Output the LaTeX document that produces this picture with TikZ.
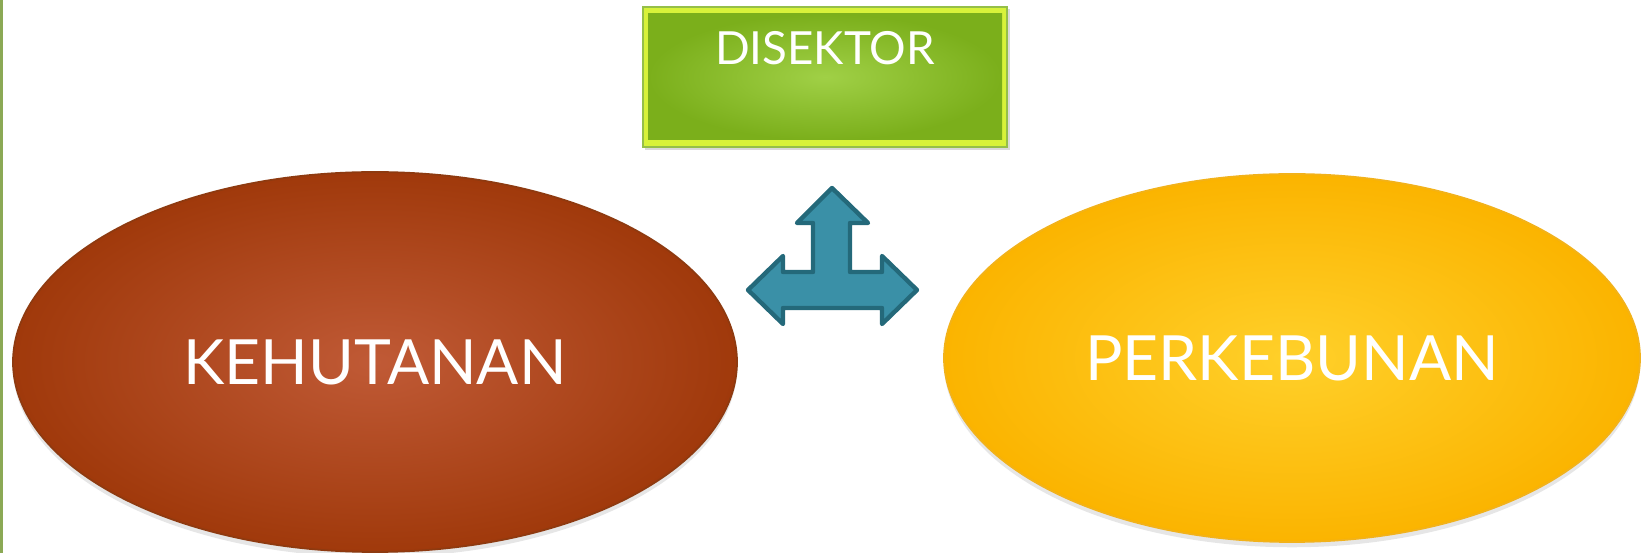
\documentclass[tikz,border=0pt]{standalone}
\usepackage{fontspec}
\setmainfont{Lato}
\usepackage{xcolor}
\usepackage{tikz}
\usetikzlibrary{positioning, calc, shapes.geometric, shadows}
\definecolor{rustin}{HTML}{C05A36}
\definecolor{rustout}{HTML}{A0390B}
\definecolor{rustline}{HTML}{8E3A10}
\definecolor{goldin}{HTML}{FFD02A}
\definecolor{goldout}{HTML}{FBB400}
\definecolor{goldline}{HTML}{F2B21A}
\definecolor{leafin}{HTML}{A0D046}
\definecolor{leafout}{HTML}{7BAF1B}
\definecolor{bevel}{HTML}{D8F23A}
\definecolor{tealfill}{HTML}{3A90A7}
\definecolor{tealline}{HTML}{24697A}
\definecolor{sidebar}{HTML}{8BA955}

\begin{document}
\begin{tikzpicture}[x=0.02cm, y=-0.02cm,
  every node/.style={text=white},
  blob/.style={ellipse, draw, line width=1pt, drop shadow={opacity=0.2, shadow xshift=0pt, shadow yshift=-3pt}},
  label/.style={font=\fontsize{35.5}{38}\selectfont}]
  \useasboundingbox (0, 0) rectangle (1651, 553);
  \fill[sidebar] (0, 0) rectangle (3, 553);

  % the two ellipses
  \node[blob, inner color=rustin, outer color=rustout, draw=rustline, minimum width=724*0.02cm, minimum height=380*0.02cm] (hutan) at (375, 362) {};
  \node[blob, inner color=goldin, outer color=goldout, draw=goldline, minimum width=696*0.02cm, minimum height=368*0.02cm] (kebun) at (1292, 358) {};
  \node[label] at (hutan.center) {KEHUTANAN};
  \node[label] at (kebun.center) {PERKEBUNAN};

  % box on top
  \fill[black, opacity=0.15] (645, 9) rectangle (1010, 150);
  \draw[fill=bevel, draw=leafout!80, line width=0.6pt] (643, 7) rectangle (1007, 147);
  \shade[inner color=leafin, outer color=leafout] (648, 14) rectangle (1002, 140);
  \node[font=\fontsize{26}{28}\selectfont] (sektor) at (825, 48) {DISEKTOR};

  % three-way arrow
  \coordinate (mid) at (832, 290);
  \draw[fill=tealfill, draw=tealline, line width=2.5pt, line join=round]
    (832, 188) -- (868, 223) -- (850, 223) -- (850, 272) -- (882, 272) -- (882, 256)
    -- (917, 290) -- (882, 324) -- (882, 308) -- (783, 308) -- (783, 324)
    -- (748, 290) -- (783, 256) -- (783, 272) -- (813, 272) -- (813, 223)
    -- (797, 223) -- cycle;
\end{tikzpicture}
\end{document}
